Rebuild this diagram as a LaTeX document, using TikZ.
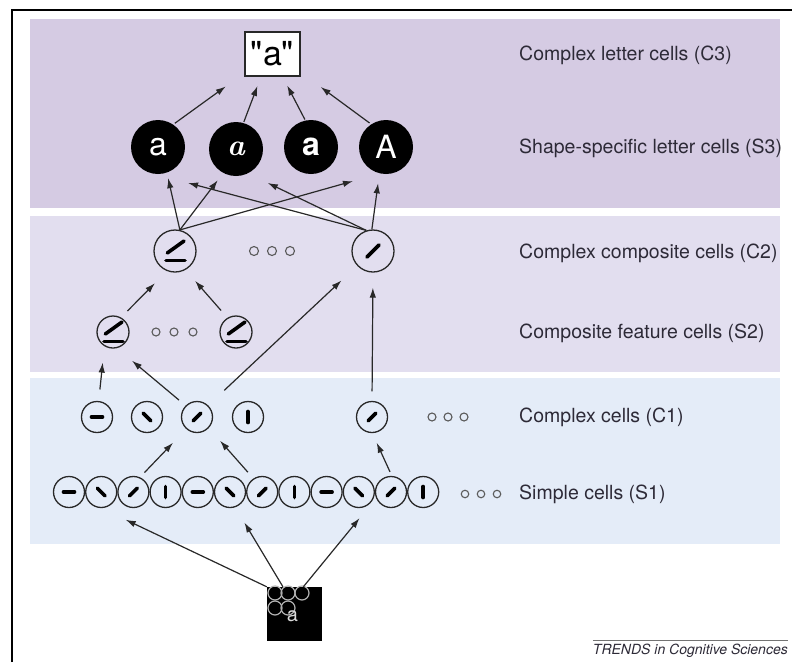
\documentclass[tikz,border=0pt]{standalone}
\usepackage{fontspec}
\setsansfont{TeX Gyre Heros}
\newfontfamily\qfont{TeX Gyre Heros}[Ligatures=TeXOff]
\usetikzlibrary{arrows.meta}
\definecolor{bandA}{RGB}{213,203,227}
\definecolor{bandB}{RGB}{226,222,239}
\definecolor{bandC}{RGB}{228,236,248}
\definecolor{ink}{RGB}{40,40,40}
\definecolor{txt}{RGB}{45,42,55}
\definecolor{dotc}{RGB}{90,90,90}
\begin{document}
\begin{tikzpicture}[x=1pt,y=-1pt,
  cell/.style={circle, draw=ink, line width=1.3pt, inner sep=0pt, minimum size=31pt},
  barline/.style={line width=3.6pt, line cap=round, draw=black},
  bar/.style n args={2}{path picture={\draw[barline]
      ([shift={(#1:#2pt)}]path picture bounding box.center) --
      ([shift={(#1+180:#2pt)}]path picture bounding box.center);}},
  comp/.style={path picture={\begin{scope}[shift={(path picture bounding box.center)}, scale=#1]
      \draw[barline] (-7.7,2) -- (9,-10);
      \draw[barline] (-9,9.3) -- (10,9.3);
    \end{scope}}},
  s3/.style={circle, fill=black, minimum size=54pt, inner sep=0pt, text=white, font=\sffamily\fontsize{32}{32}\selectfont},
  dot/.style={circle, draw=dotc, line width=1.1pt, minimum size=9pt, inner sep=0pt},
  lbl/.style={anchor=west, inner sep=0pt, text=txt, font=\sffamily\fontsize{19.5}{22}\selectfont},
  arr/.style={draw=ink, line width=1.2pt, -{Latex[length=10pt,width=6.5pt]}},
  inc/.style={draw=black!30, line width=1.2pt}
]
\useasboundingbox (0,0) rectangle (792,662);
\fill[white] (0,0) rectangle (792,662);
% bands
\fill[bandA] (30,19) rectangle (780,208);
\fill[bandB] (30,216) rectangle (780,372);
\fill[bandC] (30,378) rectangle (780,544);
% frame
\draw[line width=1.5pt, black] (12,662) -- (12,10) -- (792,10);

% C3
\node[draw=ink, line width=1.2pt, fill=white, minimum width=55pt, minimum height=44pt, inner sep=0pt,
      font=\qfont\fontsize{34}{34}\selectfont] (c3) at (272.5,54) {"a"};
% S3
\node[s3] (s3a) at (158,147) {a};
\node[s3, font=\rmfamily\bfseries\itshape\fontsize{30}{30}\selectfont] (s3b) at (236,149) {a};
\node[s3, font=\sffamily\bfseries\fontsize{32}{32}\selectfont] (s3c) at (311,147) {a};
\node[s3] (s3d) at (386,147) {A};
% C2
\node[cell, minimum size=42pt, comp=1] (c2a) at (175,251) {};
\node[cell, minimum size=42pt, bar={45}{8.5}] (c2b) at (373,251) {};
\node[dot] (d2a) at (254,251) {};
\node[dot] (d2b) at (272,251) {};
\node[dot] (d2c) at (290,251) {};
% S2
\node[cell, minimum size=32pt, comp=0.72] (s2a) at (113,332) {};
\node[cell, minimum size=32pt, comp=0.72] (s2b) at (236,332) {};
\node[dot, minimum size=8pt] (d3a) at (156,332) {};
\node[dot, minimum size=8pt] (d3b) at (174,332) {};
\node[dot, minimum size=8pt] (d3c) at (193,332) {};
% C1
\node[cell, bar={0}{5.5}] (c1a) at (97,417) {};
\node[cell, bar={-45}{5.5}] (c1b) at (147,417) {};
\node[cell, bar={45}{5.5}] (c1c) at (197,417) {};
\node[cell, bar={90}{5.5}] (c1d) at (248,417) {};
\node[cell, bar={45}{5.5}] (c1e) at (372,417) {};
\node[dot, minimum size=8pt] (d4a) at (432,417) {};
\node[dot, minimum size=8pt] (d4b) at (448,417) {};
\node[dot, minimum size=8pt] (d4c) at (464,417) {};
% S1
\node[cell, bar={0}{5.5}] (s1a) at (69,492) {};
\node[cell, bar={-45}{5.5}] (s1b) at (101.2,492) {};
\node[cell, bar={45}{5.5}] (s1c) at (133.4,492) {};
\node[cell, bar={90}{5.5}] (s1d) at (165.6,492) {};
\node[cell, bar={0}{5.5}] (s1e) at (197.8,492) {};
\node[cell, bar={-45}{5.5}] (s1f) at (230,492) {};
\node[cell, bar={45}{5.5}] (s1g) at (262.2,492) {};
\node[cell, bar={90}{5.5}] (s1h) at (294.4,492) {};
\node[cell, bar={0}{5.5}] (s1i) at (326.6,492) {};
\node[cell, bar={-45}{5.5}] (s1j) at (358.8,492) {};
\node[cell, bar={45}{5.5}] (s1k) at (391,492) {};
\node[cell, bar={90}{5.5}] (s1l) at (423.2,492) {};
\node[dot, minimum size=7.5pt] (d5a) at (465,494) {};
\node[dot, minimum size=7.5pt] (d5b) at (481,494) {};
\node[dot, minimum size=7.5pt] (d5c) at (497,494) {};
% input image
\node[fill=black, minimum width=55pt, minimum height=54pt, inner sep=0pt] (inp) at (294.5,614) {};
\begin{scope}[shift={(inp.center)}]
  \draw[inc] (-19.5,-21) circle[radius=7pt];
  \draw[inc] (-6.5,-21) circle[radius=7pt];
  \draw[inc] (7.5,-21) circle[radius=7pt];
  \draw[inc] (-19.5,-6) circle[radius=7pt];
  \draw[inc] (-6.5,-6) circle[radius=7pt];
\end{scope}
\node[text=white!85!black, font=\sffamily\fontsize{20}{20}\selectfont, inner sep=0pt] (inpa) at (292.5,616) {a};

% labels
\node[lbl] (lc3) at (519,55) {Complex letter cells (C3)};
\node[lbl] (ls3) at (519,148) {Shape-specific letter cells (S3)};
\node[lbl] (lc2) at (519,253) {Complex composite cells (C2)};
\node[lbl] (ls2) at (519,333) {Composite feature cells (S2)};
\node[lbl] (lc1) at (519,417) {Complex cells (C1)};
\node[lbl] (ls1) at (519,494) {Simple cells (S1)};
\node[anchor=east, inner sep=0pt, text=txt, font=\sffamily\itshape\fontsize{14}{14}\selectfont] (trends) at (788,651) {TRENDS in Cognitive Sciences};
\draw[black!55, line width=0.8pt] ([yshift=4pt]trends.north west) -- ([yshift=4pt]trends.north east);

% arrows S3 -> C3
\draw[arr, shorten <=2pt, shorten >=23pt] (s3a.56) -- (c3.-146);
\draw[arr, shorten <=1pt, shorten >=10pt] (s3b.74) -- (c3.-117);
\draw[arr, shorten <=1pt, shorten >=10pt] (s3c.102) -- (c3.-66);
\draw[arr, shorten <=2pt, shorten >=25pt] (s3d.123) -- (c3.-33);
% C2 -> S3
\draw[arr, shorten >=5.6pt] (c2a.77) -- (s3a.-71);
\draw[arr, shorten >=9pt] (c2a.77) -- (s3b.-118);
\draw[arr, shorten >=28pt] (c2a.77) -- (s3d.-103);
\draw[arr, shorten >=35pt] (c2b.108) -- (s3a.-98);
\draw[arr, shorten >=22pt] (c2b.108) -- (s3b.-64);
\draw[arr, shorten >=10pt] (c2b.93) -- (s3d.-104);
% S2 -> C2
\draw[arr, shorten <=9pt, shorten >=17pt] (s2a.61) -- (c2a.-112);
\draw[arr, shorten <=9.6pt, shorten >=14.5pt] (s2b.121) -- (c2a.-61);
% C1 -> S2 / C2
\draw[arr, shorten <=11.5pt, shorten >=16.4pt] (c1a.84) -- (s2a.-121);
\draw[arr, shorten <=8.5pt, shorten >=19.6pt] (c1c.135) -- (s2a.-76);
\draw[arr, shorten <=22pt, shorten >=21.5pt] (c1c.46) -- (c2b.-137);
\draw[arr, shorten <=9.5pt, shorten >=15pt] (c1e.north) -- (c2b.south);
% S1 -> C1
\draw[arr, shorten <=6.5pt, shorten >=19pt] (s1c.66) -- (c1c.-132);
\draw[arr, shorten <=8.4pt, shorten >=17pt] (s1g.123) -- (c1c.-43);
\draw[arr, shorten <=4.5pt, shorten >=10.6pt] (s1k.87) -- (c1e.-89);
% input -> S1
\draw[arr, shorten >=47pt] (inp.north west) -- (s1a.-28);
\draw[arr, shorten >=17.8pt] (inp.113) -- (s1f.-71);
\draw[arr, shorten >=26pt] (inp.72) -- (s1k.-158);
\end{tikzpicture}
\end{document}
